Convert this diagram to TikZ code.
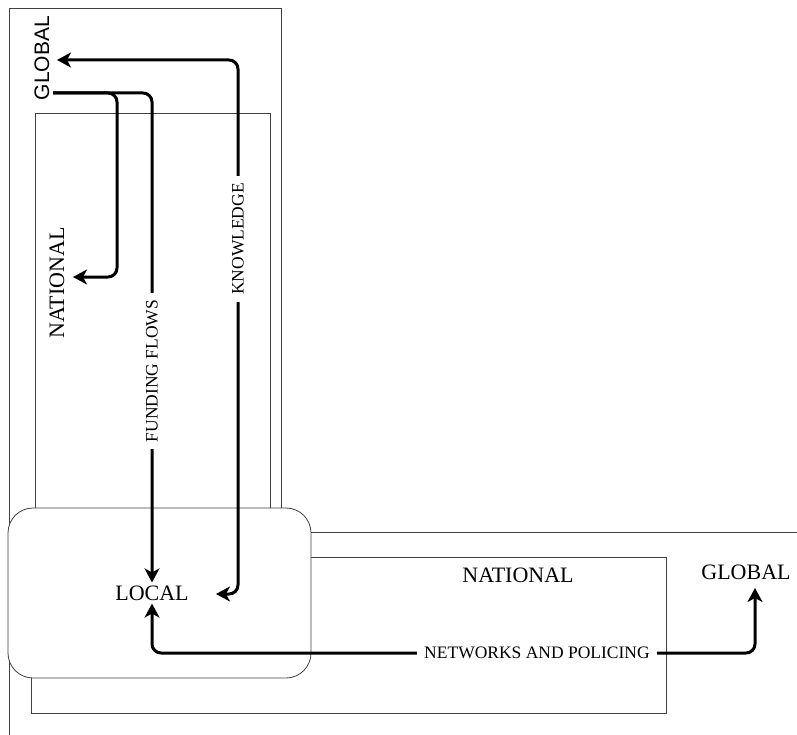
\documentclass[tikz,border=0pt]{standalone}
\usepackage{fontspec}
\setmainfont{Liberation Serif}
\newfontfamily\glsans{Liberation Sans}
\usetikzlibrary{arrows.meta,positioning}

\begin{document}
\begin{tikzpicture}[
    x=1pt, y=-1pt,
    frame/.style={draw=black!75, line width=0.8pt},
    localbox/.style={draw=black!75, line width=0.8pt, fill=white, rounded corners=25pt, minimum width=303pt, minimum height=170pt, inner sep=0pt},
    level/.style={font=\fontsize{22}{26}\selectfont, inner sep=3pt},
    flowlabel/.style={font=\fontsize{17.5}{20}\selectfont, fill=white, inner xsep=7pt, inner ysep=2pt},
    flow/.style={line width=3pt, rounded corners=9pt, -{Stealth[length=14pt, width=15pt, inset=4pt]}},
    twoway/.style={flow, {Stealth[length=14pt, width=15pt, inset=4pt]}-{Stealth[length=14pt, width=15pt, inset=4pt]}},
]
\useasboundingbox (0,0) rectangle (797,735);
\clip (0,0) rectangle (797,735);

% ── Scale frames ──
\draw[frame] (9,8) rectangle (281,620);
\draw[frame] (35,113) rectangle (270,620);
\draw[frame] (9,532) rectangle (820,760);
\draw[frame] (31,557) rectangle (666,713);
\node[localbox] (localbox) at (159.5,593) {};

% ── Level names ──
\node[level, font=\glsans\fontsize{21}{25}\selectfont, rotate=90] (globv) at (42,58) {GLOBAL};
\node[level, rotate=90] (natv) at (57,283) {NATIONAL};
\node[level] (loc) at (152,593) {LOCAL};
\node[level] (nath) at (518,575) {NATIONAL};
\node[level] (globh) at (746,572) {GLOBAL};

% ── Connector ends ──
\coordinate (gl-out) at (53,93);
\coordinate (gl-in) at (57,60);
\coordinate (nat-in) at (73,277);
\coordinate (loc-kn) at (216,594);
\coordinate (gl-h) at (755,588);

% ── Arrows ──
\draw[flow] (gl-out) -- (117,93) |- (nat-in);
\draw[flow] (gl-out) -| (loc.north);
\draw[twoway] (gl-in) -- (238,60) -- (238,594) -- (loc-kn);
\draw[twoway] (loc.south) -- (152,653) -| (gl-h);

% ── Flow labels ──
\node[flowlabel, rotate=90] (fund) at (152,371) {FUNDING FLOWS};
\node[flowlabel, rotate=90] (know) at (238,239) {KNOWLEDGE};
\node[flowlabel] (netw) at (537,653) {NETWORKS AND POLICING};

\end{tikzpicture}
\end{document}
